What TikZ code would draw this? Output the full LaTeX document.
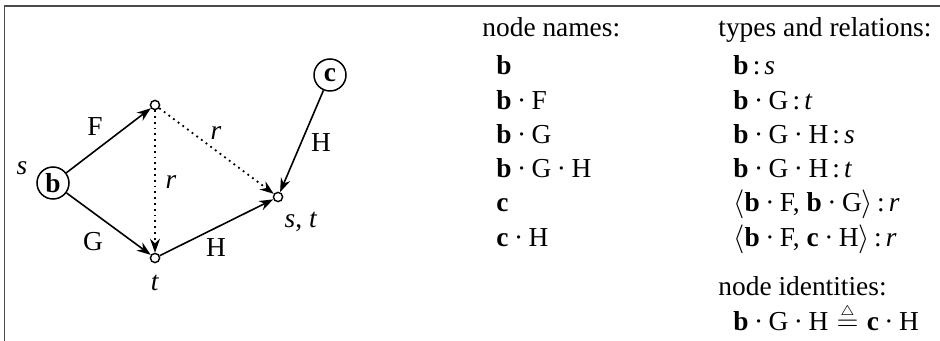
\documentclass[tikz,border=0pt]{standalone}
\usepackage{fontspec}
\setmainfont{Liberation Serif}
\usetikzlibrary{arrows.meta}
\newcommand{\md}{\kern0.2em·\kern0.2em}
\newcommand{\cl}{\kern0.15em:\kern0.15em}
\newcommand{\mydefeq}{\kern0.3em$\vbox{\offinterlineskip\halign{\hfil##\hfil\cr$\scriptscriptstyle\triangle$\cr\noalign{\kern0.6pt}$=$\cr}}$\kern0.3em}
\begin{document}
\begin{tikzpicture}[x=0.5pt,y=-0.5pt,
  every node/.style={font=\fontsize{13.7}{16}\selectfont, inner sep=0pt},
  bignode/.style={draw, circle, line width=0.75pt, minimum size=16pt},
  smallnode/.style={draw, circle, line width=0.7pt, minimum size=4.6pt},
  edge/.style={line width=0.8pt, -{Stealth[length=7pt,width=5pt]}},
  dedge/.style={line width=0.9pt, dotted, -{Stealth[length=7pt,width=5pt]}},
  lab/.style={anchor=center},
  txt/.style={anchor=base west}]
\useasboundingbox (0,0) rectangle (940,341);
\draw[line width=0.7pt, black!70] (4.5,341) -- (4.5,6) -- (940,6);
% graph
\node[bignode] (b) at (53,183) {\textbf{b}};
\node[bignode] (c) at (330,75) {\textbf{c}};
\node[smallnode] (u) at (155,105) {};
\node[smallnode] (t) at (155,258) {};
\node[smallnode] (st) at (278,197) {};
\draw[edge] (b) -- (u);
\draw[edge] (b) -- (t);
\draw[dedge] (u) -- (t);
\draw[dedge] (u) -- (st);
\draw[edge] (c) -- (st);
\draw[edge] (t) -- (st);
\node[lab] (ls) at (22,168) {\textit{s}};
\node[lab] (lF) at (95,127) {F};
\node[lab] (lG) at (93,242) {G};
\node[lab] (lr1) at (171,182) {\textit{r}};
\node[lab] (lr2) at (216,133) {\textit{r}};
\node[lab] (lH1) at (321,143) {H};
\node[lab] (lH2) at (216,248) {H};
\node[lab] (lst) at (301,222) {\textit{s}, \textit{t}};
\node[lab] (lt) at (155,283) {\textit{t}};
% text column 1
\node[txt] (h1) at (482,37) {node names:};
\node[txt] (n1) at (496,75) {\textbf{b}};
\node[txt] (n2) at (496,110) {\textbf{b}\md F};
\node[txt] (n3) at (496,144) {\textbf{b}\md G};
\node[txt] (n4) at (496,178) {\textbf{b}\md G\md H};
\node[txt] (n5) at (496,212) {\textbf{c}};
\node[txt] (n6) at (496,247) {\textbf{c}\md H};
% text column 2
\node[txt] (h2) at (718,37) {types and relations:};
\node[txt] (m1) at (733,75) {\textbf{b}\cl\textit{s}};
\node[txt] (m2) at (733,110) {\textbf{b}\md G\cl\textit{t}};
\node[txt] (m3) at (733,144) {\textbf{b}\md G\md H\cl\textit{s}};
\node[txt] (m4) at (733,178) {\textbf{b}\md G\md H\cl\textit{t}};
\node[txt] (m5) at (733,212) {$\langle$\textbf{b}\md F, \textbf{b}\md G$\rangle$\cl\textit{r}};
\node[txt] (m6) at (733,247) {$\langle$\textbf{b}\md F, \textbf{c}\md H$\rangle$\cl\textit{r}};
\node[txt] (h3) at (718,295) {node identities:};
\node[txt] (m7) at (733,330) {\textbf{b}\md G\md H\mydefeq\textbf{c}\md H};
\end{tikzpicture}
\end{document}
